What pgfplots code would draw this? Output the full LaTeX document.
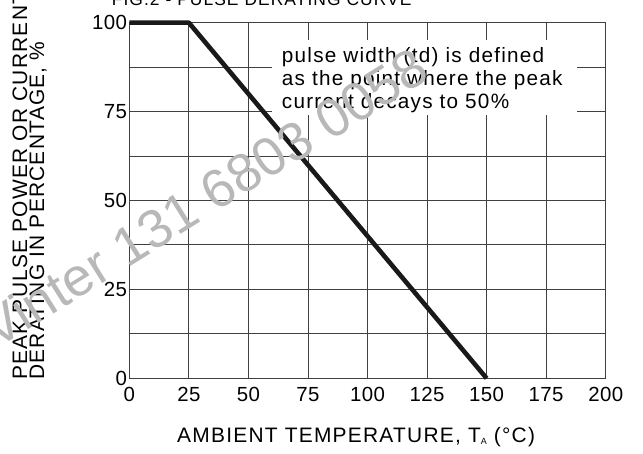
\documentclass[border=0pt]{standalone}
\usepackage{fontspec}
\setmainfont{Liberation Sans}[LetterSpace=6]
\newfontfamily\wmfont{Liberation Sans}
\newfontfamily\tickfont{Liberation Sans}[LetterSpace=2]
\usepackage{pgfplots}
\pgfplotsset{compat=1.18}
\definecolor{gridc}{gray}{0.25}
\definecolor{wmc}{gray}{0.72}
\begin{document}
\begin{tikzpicture}
\useasboundingbox (0bp,0bp) rectangle (643bp,454bp);
\begin{axis}[
  at={(129.3bp,75.7bp)}, anchor=south west,
  scale only axis, width=476.4bp, height=355.6bp,
  xmin=0, xmax=200, ymin=0, ymax=100,
  xtick={0,25,...,200}, ytick={0,25,...,100},
  minor ytick={12.5,37.5,62.5,87.5},
  grid=both,
  major grid style={gridc, line width=0.9bp},
  minor grid style={gridc, line width=0.9bp},
  axis line style={gridc, line width=0.9bp},
  major tick length=0pt, minor tick length=0pt,
  tick style={draw=none},
  /pgf/number format/assume math mode=true,
  ticklabel style={font=\tickfont\fontsize{20.5}{20.5}\selectfont},
  xticklabel style={inner sep=0pt, anchor=north, yshift=-9bp},
  yticklabel style={inner sep=0pt, anchor=east, xshift=-2bp},
  clip=false,
]
\addplot[black!90, line width=4.6bp, line join=round] coordinates {(0,100) (25,100) (150,0)};
\end{axis}
% annotation box
\fill[white] (272bp,339bp) rectangle (577bp,414bp);
\begin{scope}[every node/.style={inner sep=0pt, anchor=base west, font=\fontsize{20.8}{23}\selectfont}]
\node at (281.7bp,391bp) {pulse width (td) is defined};
\node at (281.7bp,368.5bp) {as the point where the peak};
\node at (281.7bp,345bp) {current decays to 50\%};
\end{scope}
% title (cut at top)
\node[inner sep=0pt, anchor=base west, font=\fontsize{17.5}{17.5}\selectfont] at (111.7bp,448bp) {FIG.2 - PULSE DERATING CURVE};
% y label
\node[inner sep=0pt, anchor=base west, rotate=90, font=\fontsize{21}{21}\selectfont] at (27bp,74bp) {PEAK PULSE POWER OR CURRENT};
\node[inner sep=0pt, anchor=base west, rotate=90, font=\fontsize{21}{21}\selectfont] at (44bp,74bp) {DERATING IN PERCENTAGE, \%};
% x label
\node[inner sep=0pt, anchor=base west, font=\fontsize{21}{21}\selectfont] at (177bp,12bp) {AMBIENT TEMPERATURE, T\raisebox{-2bp}{\fontsize{9}{9}\selectfont A} (°C)};
% watermark
\node[inner sep=0pt, anchor=base west, rotate=32, text=wmc, font=\wmfont\fontsize{54}{54}\selectfont] at (-4bp,104bp) {Vinter 131 6803 0058};
\end{tikzpicture}
\end{document}
